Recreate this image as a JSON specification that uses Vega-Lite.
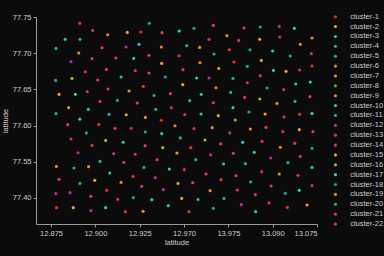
{
"$schema": "https://vega.github.io/schema/vega-lite/v6.json",
"autosize": {"type": "none"},
"padding": {"left": 36, "top": 17, "right": 67, "bottom": 32},
"width": 281,
"height": 207,
"background": "#0b0b0b",
"config": {
  "view": {"stroke": null},
  "font": "Liberation Sans",
  "axis": {"domainColor": "#9a9a9a", "tickColor": "#9a9a9a", "labelColor": "#cccccc", "titleColor": "#cccccc", "labelFontSize": 7.5, "titleFontSize": 7.5, "titleFontWeight": "normal", "tickSize": 3, "labelPadding": 2, "grid": false},
  "legend": {"labelColor": "#cccccc", "labelFontSize": 7.5, "padding": 0}
},
"data": {"values": [
{"x":12.8912,"y":77.7412,"c":"cluster-1"},
{"x":12.8985,"y":77.7315,"c":"cluster-13"},
{"x":12.9180,"y":77.7287,"c":"cluster-2"},
{"x":12.9069,"y":77.7255,"c":"cluster-6"},
{"x":12.8830,"y":77.7191,"c":"cluster-3"},
{"x":12.8913,"y":77.7191,"c":"cluster-4"},
{"x":12.8778,"y":77.7066,"c":"cluster-5"},
{"x":12.9037,"y":77.7076,"c":"cluster-21"},
{"x":12.9173,"y":77.7086,"c":"cluster-12"},
{"x":12.8906,"y":77.7003,"c":"cluster-9"},
{"x":12.8981,"y":77.6924,"c":"cluster-12"},
{"x":12.9115,"y":77.6934,"c":"cluster-14"},
{"x":12.8862,"y":77.6883,"c":"cluster-12"},
{"x":12.9062,"y":77.6776,"c":"cluster-1"},
{"x":12.8943,"y":77.6744,"c":"cluster-21"},
{"x":12.9145,"y":77.6671,"c":"cluster-10"},
{"x":12.9013,"y":77.6630,"c":"cluster-22"},
{"x":12.8868,"y":77.6652,"c":"cluster-7"},
{"x":12.8776,"y":77.6624,"c":"cluster-11"},
{"x":12.9071,"y":77.6505,"c":"cluster-13"},
{"x":12.9190,"y":77.6478,"c":"cluster-16"},
{"x":12.8795,"y":77.6431,"c":"cluster-15"},
{"x":12.8887,"y":77.6431,"c":"cluster-17"},
{"x":12.8954,"y":77.6468,"c":"cluster-12"},
{"x":12.9124,"y":77.6348,"c":"cluster-18"},
{"x":12.9026,"y":77.6334,"c":"cluster-1"},
{"x":12.8849,"y":77.6247,"c":"cluster-19"},
{"x":12.8960,"y":77.6224,"c":"cluster-3"},
{"x":12.8778,"y":77.6164,"c":"cluster-4"},
{"x":12.9077,"y":77.6155,"c":"cluster-5"},
{"x":12.9174,"y":77.6150,"c":"cluster-2"},
{"x":12.8912,"y":77.6088,"c":"cluster-10"},
{"x":12.9304,"y":77.7412,"c":"cluster-11"},
{"x":12.9256,"y":77.7293,"c":"cluster-21"},
{"x":12.9376,"y":77.7283,"c":"cluster-14"},
{"x":12.9473,"y":77.7307,"c":"cluster-17"},
{"x":12.9556,"y":77.7343,"c":"cluster-18"},
{"x":12.9665,"y":77.7384,"c":"cluster-22"},
{"x":12.9641,"y":77.7191,"c":"cluster-13"},
{"x":12.9246,"y":77.7122,"c":"cluster-3"},
{"x":12.9372,"y":77.7086,"c":"cluster-6"},
{"x":12.9515,"y":77.7104,"c":"cluster-4"},
{"x":12.9588,"y":77.7080,"c":"cluster-9"},
{"x":12.9669,"y":77.6989,"c":"cluster-5"},
{"x":12.9216,"y":77.6928,"c":"cluster-10"},
{"x":12.9302,"y":77.6970,"c":"cluster-14"},
{"x":12.9472,"y":77.6965,"c":"cluster-1"},
{"x":12.9374,"y":77.6859,"c":"cluster-15"},
{"x":12.9590,"y":77.6869,"c":"cluster-19"},
{"x":12.9696,"y":77.6790,"c":"cluster-7"},
{"x":12.9225,"y":77.6758,"c":"cluster-21"},
{"x":12.9302,"y":77.6726,"c":"cluster-22"},
{"x":12.9494,"y":77.6772,"c":"cluster-13"},
{"x":12.9394,"y":77.6671,"c":"cluster-11"},
{"x":12.9571,"y":77.6657,"c":"cluster-17"},
{"x":12.9641,"y":77.6657,"c":"cluster-12"},
{"x":12.9493,"y":77.6565,"c":"cluster-2"},
{"x":12.9680,"y":77.6523,"c":"cluster-6"},
{"x":12.9270,"y":77.6541,"c":"cluster-1"},
{"x":12.9331,"y":77.6417,"c":"cluster-18"},
{"x":12.9423,"y":77.6441,"c":"cluster-14"},
{"x":12.9597,"y":77.6431,"c":"cluster-3"},
{"x":12.9236,"y":77.6312,"c":"cluster-22"},
{"x":12.9532,"y":77.6344,"c":"cluster-4"},
{"x":12.9665,"y":77.6316,"c":"cluster-13"},
{"x":12.9428,"y":77.6247,"c":"cluster-12"},
{"x":12.9340,"y":77.6224,"c":"cluster-5"},
{"x":12.9282,"y":77.6113,"c":"cluster-9"},
{"x":12.9504,"y":77.6150,"c":"cluster-14"},
{"x":12.9596,"y":77.6160,"c":"cluster-10"},
{"x":12.9693,"y":77.6137,"c":"cluster-15"},
{"x":12.9372,"y":77.6074,"c":"cluster-21"},
{"x":12.9838,"y":77.7348,"c":"cluster-22"},
{"x":12.9930,"y":77.7362,"c":"cluster-11"},
{"x":13.0037,"y":77.7370,"c":"cluster-12"},
{"x":13.0122,"y":77.7343,"c":"cluster-17"},
{"x":12.9742,"y":77.7242,"c":"cluster-19"},
{"x":12.9808,"y":77.7177,"c":"cluster-13"},
{"x":12.9927,"y":77.7191,"c":"cluster-2"},
{"x":13.0040,"y":77.7224,"c":"cluster-12"},
{"x":13.0222,"y":77.7210,"c":"cluster-6"},
{"x":13.0156,"y":77.7122,"c":"cluster-9"},
{"x":12.9755,"y":77.7048,"c":"cluster-1"},
{"x":12.9872,"y":77.7048,"c":"cluster-18"},
{"x":13.0000,"y":77.7030,"c":"cluster-3"},
{"x":13.0218,"y":77.6993,"c":"cluster-12"},
{"x":13.0099,"y":77.6961,"c":"cluster-4"},
{"x":12.9936,"y":77.6900,"c":"cluster-16"},
{"x":12.9782,"y":77.6878,"c":"cluster-21"},
{"x":12.9857,"y":77.6818,"c":"cluster-5"},
{"x":13.0222,"y":77.6823,"c":"cluster-1"},
{"x":13.0004,"y":77.6762,"c":"cluster-10"},
{"x":13.0075,"y":77.6749,"c":"cluster-15"},
{"x":13.0152,"y":77.6768,"c":"cluster-21"},
{"x":12.9776,"y":77.6652,"c":"cluster-11"},
{"x":12.9930,"y":77.6689,"c":"cluster-1"},
{"x":12.9857,"y":77.6592,"c":"cluster-21"},
{"x":13.0212,"y":77.6602,"c":"cluster-17"},
{"x":12.9968,"y":77.6519,"c":"cluster-18"},
{"x":13.0130,"y":77.6574,"c":"cluster-3"},
{"x":13.0062,"y":77.6496,"c":"cluster-12"},
{"x":12.9763,"y":77.6458,"c":"cluster-4"},
{"x":12.9842,"y":77.6389,"c":"cluster-14"},
{"x":12.9927,"y":77.6367,"c":"cluster-7"},
{"x":13.0024,"y":77.6306,"c":"cluster-19"},
{"x":13.0126,"y":77.6334,"c":"cluster-5"},
{"x":13.0210,"y":77.6399,"c":"cluster-22"},
{"x":12.9776,"y":77.6247,"c":"cluster-10"},
{"x":12.9866,"y":77.6188,"c":"cluster-11"},
{"x":12.9957,"y":77.6160,"c":"cluster-2"},
{"x":13.0064,"y":77.6119,"c":"cluster-13"},
{"x":13.0152,"y":77.6155,"c":"cluster-1"},
{"x":13.0222,"y":77.6168,"c":"cluster-17"},
{"x":12.9789,"y":77.6077,"c":"cluster-16"},
{"x":12.8844,"y":77.6012,"c":"cluster-14"},
{"x":12.9019,"y":77.6016,"c":"cluster-21"},
{"x":12.9111,"y":77.5961,"c":"cluster-22"},
{"x":12.9202,"y":77.5961,"c":"cluster-12"},
{"x":12.8949,"y":77.5898,"c":"cluster-18"},
{"x":12.8862,"y":77.5815,"c":"cluster-1"},
{"x":12.8981,"y":77.5726,"c":"cluster-21"},
{"x":12.9058,"y":77.5795,"c":"cluster-7"},
{"x":12.9157,"y":77.5768,"c":"cluster-3"},
{"x":12.8902,"y":77.5625,"c":"cluster-12"},
{"x":12.9103,"y":77.5612,"c":"cluster-12"},
{"x":12.9026,"y":77.5505,"c":"cluster-4"},
{"x":12.9160,"y":77.5491,"c":"cluster-13"},
{"x":12.8780,"y":77.5436,"c":"cluster-6"},
{"x":12.8879,"y":77.5414,"c":"cluster-5"},
{"x":12.8962,"y":77.5432,"c":"cluster-9"},
{"x":12.9081,"y":77.5345,"c":"cluster-10"},
{"x":12.8795,"y":77.5257,"c":"cluster-14"},
{"x":12.8996,"y":77.5243,"c":"cluster-15"},
{"x":12.9145,"y":77.5215,"c":"cluster-19"},
{"x":12.8913,"y":77.5201,"c":"cluster-11"},
{"x":12.9064,"y":77.5105,"c":"cluster-1"},
{"x":12.8776,"y":77.5059,"c":"cluster-12"},
{"x":12.8857,"y":77.5073,"c":"cluster-12"},
{"x":12.8974,"y":77.5022,"c":"cluster-22"},
{"x":12.9126,"y":77.4980,"c":"cluster-21"},
{"x":12.8780,"y":77.4866,"c":"cluster-1"},
{"x":12.8875,"y":77.4866,"c":"cluster-2"},
{"x":12.8975,"y":77.4824,"c":"cluster-12"},
{"x":12.9058,"y":77.4866,"c":"cluster-17"},
{"x":12.9169,"y":77.4810,"c":"cluster-21"},
{"x":12.9212,"y":77.5298,"c":"cluster-1"},
{"x":12.9449,"y":77.5998,"c":"cluster-6"},
{"x":12.9556,"y":77.5957,"c":"cluster-13"},
{"x":12.9659,"y":77.5971,"c":"cluster-9"},
{"x":12.9282,"y":77.5911,"c":"cluster-18"},
{"x":12.9374,"y":77.5888,"c":"cluster-3"},
{"x":12.9479,"y":77.5829,"c":"cluster-4"},
{"x":12.9618,"y":77.5801,"c":"cluster-16"},
{"x":12.9707,"y":77.5746,"c":"cluster-14"},
{"x":12.9280,"y":77.5722,"c":"cluster-22"},
{"x":12.9380,"y":77.5695,"c":"cluster-7"},
{"x":12.9538,"y":77.5695,"c":"cluster-21"},
{"x":12.9225,"y":77.5602,"c":"cluster-1"},
{"x":12.9460,"y":77.5621,"c":"cluster-15"},
{"x":12.9650,"y":77.5594,"c":"cluster-12"},
{"x":12.9348,"y":77.5529,"c":"cluster-13"},
{"x":12.9566,"y":77.5529,"c":"cluster-5"},
{"x":12.9723,"y":77.5469,"c":"cluster-10"},
{"x":12.9274,"y":77.5422,"c":"cluster-11"},
{"x":12.9417,"y":77.5400,"c":"cluster-17"},
{"x":12.9502,"y":77.5391,"c":"cluster-21"},
{"x":12.9624,"y":77.5331,"c":"cluster-14"},
{"x":12.9338,"y":77.5280,"c":"cluster-12"},
{"x":12.9466,"y":77.5201,"c":"cluster-16"},
{"x":12.9549,"y":77.5211,"c":"cluster-22"},
{"x":12.9709,"y":77.5253,"c":"cluster-1"},
{"x":12.9261,"y":77.5160,"c":"cluster-13"},
{"x":12.9383,"y":77.5114,"c":"cluster-12"},
{"x":12.9647,"y":77.5101,"c":"cluster-19"},
{"x":12.9214,"y":77.5004,"c":"cluster-18"},
{"x":12.9318,"y":77.4976,"c":"cluster-3"},
{"x":12.9487,"y":77.4994,"c":"cluster-2"},
{"x":12.9579,"y":77.4980,"c":"cluster-4"},
{"x":12.9725,"y":77.4994,"c":"cluster-5"},
{"x":12.9411,"y":77.4893,"c":"cluster-10"},
{"x":12.9665,"y":77.4856,"c":"cluster-11"},
{"x":12.9269,"y":77.4815,"c":"cluster-6"},
{"x":12.9528,"y":77.4810,"c":"cluster-21"},
{"x":12.9874,"y":77.5953,"c":"cluster-9"},
{"x":12.9962,"y":77.5975,"c":"cluster-14"},
{"x":13.0057,"y":77.5916,"c":"cluster-1"},
{"x":13.0150,"y":77.5943,"c":"cluster-15"},
{"x":13.0227,"y":77.5916,"c":"cluster-22"},
{"x":12.9758,"y":77.5898,"c":"cluster-12"},
{"x":12.9831,"y":77.5768,"c":"cluster-17"},
{"x":12.9940,"y":77.5782,"c":"cluster-13"},
{"x":13.0124,"y":77.5754,"c":"cluster-14"},
{"x":13.0043,"y":77.5699,"c":"cluster-19"},
{"x":13.0222,"y":77.5685,"c":"cluster-18"},
{"x":12.9778,"y":77.5616,"c":"cluster-22"},
{"x":12.9896,"y":77.5630,"c":"cluster-3"},
{"x":13.0156,"y":77.5574,"c":"cluster-21"},
{"x":12.9989,"y":77.5552,"c":"cluster-12"},
{"x":12.9846,"y":77.5474,"c":"cluster-4"},
{"x":13.0086,"y":77.5487,"c":"cluster-5"},
{"x":13.0222,"y":77.5422,"c":"cluster-10"},
{"x":12.9938,"y":77.5363,"c":"cluster-1"},
{"x":13.0037,"y":77.5331,"c":"cluster-7"},
{"x":13.0143,"y":77.5312,"c":"cluster-13"},
{"x":12.9793,"y":77.5308,"c":"cluster-14"},
{"x":12.9876,"y":77.5221,"c":"cluster-11"},
{"x":13.0222,"y":77.5170,"c":"cluster-12"},
{"x":12.9991,"y":77.5165,"c":"cluster-22"},
{"x":12.9800,"y":77.5110,"c":"cluster-13"},
{"x":13.0150,"y":77.5105,"c":"cluster-17"},
{"x":13.0071,"y":77.5063,"c":"cluster-18"},
{"x":12.9902,"y":77.5045,"c":"cluster-14"},
{"x":12.9823,"y":77.4907,"c":"cluster-12"},
{"x":12.9979,"y":77.4931,"c":"cluster-21"},
{"x":13.0083,"y":77.4870,"c":"cluster-1"},
{"x":13.0194,"y":77.4903,"c":"cluster-2"},
{"x":12.9904,"y":77.4810,"c":"cluster-3"}
]},
"mark": {"type": "circle", "size": 10, "opacity": 1},
"encoding": {
  "x": {"field": "x", "type": "quantitative",
    "scale": {"domain": [12.8665, 13.025], "nice": false, "zero": false},
    "axis": {"title": "latitude", "titlePadding": 2, "values": [12.875, 12.9, 12.925, 12.95, 12.975, 13.0, 13.025],
      "labelExpr": "datum.value < 12.94 ? format(datum.value, '.3f') : datum.value < 12.96 ? '12.970' : datum.value < 12.99 ? '13.975' : datum.value < 13.01 ? '13.090' : '13.075'"}},
  "y": {"field": "y", "type": "quantitative",
    "scale": {"domain": [77.464, 77.75], "nice": false, "zero": false},
    "axis": {"title": "latitude", "titlePadding": 3, "values": [77.5, 77.55, 77.6, 77.65, 77.7, 77.75],
      "labelExpr": "datum.value < 77.52 ? '77.40' : format(datum.value, '.2f')"}},
  "color": {"field": "c", "type": "nominal",
    "scale": {"domain": ["cluster-1","cluster-2","cluster-3","cluster-4","cluster-5","cluster-6","cluster-7","cluster-8","cluster-9","cluster-10","cluster-11","cluster-12","cluster-13","cluster-14","cluster-15","cluster-16","cluster-17","cluster-18","cluster-19","cluster-20","cluster-21","cluster-22"],
      "range": ["#e8322f","#eea232","#2ec4b4","#26ab98","#2aa6a6","#e28a2c","#c8a332","#4caf5a","#e48e2c","#30c0b0","#22a88c","#b0309c","#d2307e","#e43470","#eea232","#c0a834","#36ccbc","#22a0a0","#dc8a30","#44ac5c","#e83030","#e2347a"]},
    "legend": {"title": null, "orient": "none", "legendX": 295.7, "legendY": -4, "symbolType": "circle", "symbolSize": 10, "labelOffset": 11, "rowPadding": 0.87}}
}
}
